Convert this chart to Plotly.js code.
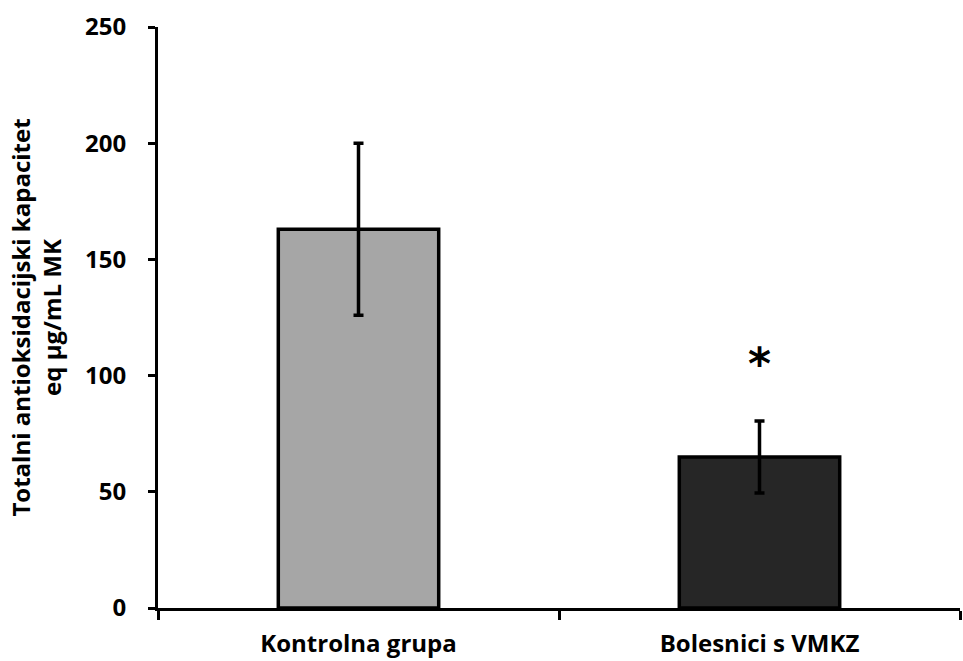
<!DOCTYPE html>
<html><head><meta charset="utf-8">
<script src="https://cdn.plot.ly/plotly-3.0.1.min.js"></script>
<style>body{margin:0;background:#fff}</style>
</head><body>
<div id="chart" style="width:963px;height:661px"></div>
<script>
const categories = ["Kontrolna grupa", "Bolesnici s VMKZ"];
const means = [163, 65];
const errors = [37, 15.5];
const barColors = ["#a6a6a6", "#262626"];
const yTicks = [0, 50, 100, 150, 200, 250];
const sigMarks = ["", "*"];
const sigY = [null, 105];

const trace = {
  type: "bar",
  x: categories,
  y: means,
  width: 0.4,
  marker: {color: barColors, line: {color: "#000", width: 3.5}},
  error_y: {type: "data", array: errors, visible: true, color: "#000", thickness: 3.5, width: 5},
  hoverinfo: "skip"
};

const annotations = [];
categories.forEach((c, i) => {
  if (sigMarks[i]) annotations.push({x: c, y: sigY[i], xref: "x", yref: "y", text: sigMarks[i], showarrow: false,
    font: {family: "DejaVu Sans", size: 44, color: "#000", weight: "bold"}});
});

const layout = {
  width: 963, height: 661,
  margin: {l: 158, r: 3, t: 27, b: 53},
  paper_bgcolor: "#fff", plot_bgcolor: "#fff",
  showlegend: false,
  xaxis: {
    type: "category", range: [-0.5, 1.5],
    showline: true, linecolor: "#000", linewidth: 3,
    ticks: "outside", tickson: "boundaries", ticklen: 9, tickwidth: 3, tickcolor: "#000",
    showgrid: false, zeroline: false,
    tickfont: {family: "Open Sans", size: 24, color: "#000", weight: "bold"},
    ticklabelstandoff: 12
  },
  yaxis: {
    range: [0, 250], tickvals: yTicks, ticktext: yTicks.map(String),
    showline: true, linecolor: "#000", linewidth: 3,
    ticks: "outside", ticklen: 7, tickwidth: 3, tickcolor: "#000",
    showgrid: false, zeroline: false,
    tickfont: {family: "Open Sans", size: 24, color: "#000", weight: "bold"},
    ticklabelstandoff: 17,
    title: {text: "Totalni antioksidacijski kapacitet<br>eq µg/mL MK", standoff: 17,
      font: {family: "Open Sans", size: 24, color: "#000", weight: "bold"}}
  },
  annotations: annotations
};

Plotly.newPlot("chart", [trace], layout, {displayModeBar: false, staticPlot: true});
</script>
</body></html>
